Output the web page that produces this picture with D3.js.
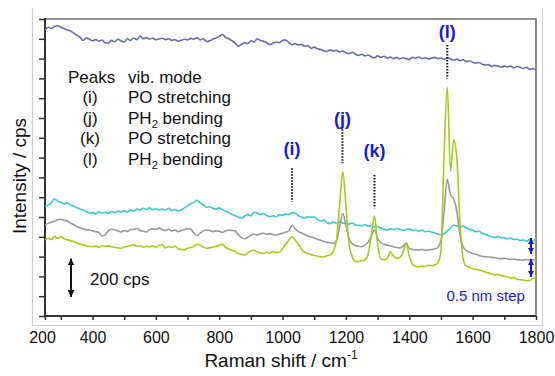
<!DOCTYPE html>
<html><head><meta charset="utf-8">
<script src="https://cdn.jsdelivr.net/npm/d3@7"></script>
<style>body{margin:0;background:#fff}svg{display:block}text{font-family:"Liberation Sans",Arial,sans-serif}</style>
</head><body><svg id="c" width="555" height="376"></svg>
<script>
// Raman shift grid: starts at 250 cm-1, one value every 10 cm-1
const shiftStart = 250, shiftStep = 10;
const purpleCps = [1444,1458,1452,1462,1466,1458,1452,1445,1440,1430,1418,1410,1392,1404,1398,1390,1396,1388,1394,1380,1378,1392,1385,1398,1390,1384,1400,1392,1404,1396,1414,1400,1406,1398,1404,1395,1400,1403,1396,1400,1392,1396,1388,1392,1398,1394,1402,1398,1406,1394,1400,1386,1390,1398,1404,1412,1422,1408,1400,1390,1378,1362,1372,1380,1376,1390,1384,1400,1392,1388,1380,1370,1378,1384,1380,1392,1394,1380,1370,1376,1368,1372,1362,1366,1352,1358,1350,1346,1340,1336,1344,1338,1342,1334,1338,1330,1326,1332,1322,1316,1322,1314,1318,1309,1304,1314,1306,1312,1302,1308,1300,1306,1298,1304,1300,1296,1306,1302,1308,1300,1304,1298,1302,1306,1300,1303,1296,1304,1298,1292,1298,1290,1294,1286,1288,1282,1278,1280,1272,1268,1270,1260,1266,1262,1256,1262,1258,1262,1254,1260,1256,1250,1256,1246,1250,1242];
const cyanCps = [552,560,572,592,580,576,566,572,560,556,548,540,536,528,520,522,516,526,520,524,518,528,522,530,526,532,524,536,530,540,534,544,538,546,536,542,534,540,536,544,532,538,530,536,546,556,566,574,584,570,562,548,552,544,540,546,536,530,522,514,506,500,494,504,512,506,524,520,512,518,508,502,506,500,512,508,516,512,522,520,506,500,494,502,498,500,488,480,484,472,466,474,470,476,470,468,464,470,460,458,456,462,454,458,450,452,444,438,432,440,436,442,438,432,436,440,432,434,428,434,426,428,424,420,414,410,416,430,444,458,456,450,454,444,438,434,426,428,418,412,406,400,396,402,394,396,390,394,386,388,382,384,378,386,380,388];
const grayCps = [460,468,474,480,486,488,484,480,470,462,452,446,440,436,434,430,426,422,404,410,430,438,436,430,424,432,426,436,438,442,432,428,424,436,440,438,444,436,432,438,430,434,426,432,436,440,438,420,406,418,430,434,432,426,430,428,422,430,434,432,430,412,396,390,398,408,414,408,416,418,412,416,410,408,414,418,424,430,458,440,426,420,412,404,400,394,388,382,376,372,370,366,380,450,518,458,392,364,356,352,350,358,372,402,434,392,370,362,358,354,350,346,344,352,368,342,336,334,333,336,332,334,336,338,346,380,530,690,612,592,530,410,350,330,322,316,312,306,302,300,298,296,294,292,290,292,288,286,288,284,284,282,286,282,284,282];
const greenCps = [384,392,386,402,392,400,390,386,380,376,370,364,360,354,352,350,354,348,356,352,354,350,346,344,342,348,352,356,360,352,356,348,352,350,354,348,356,360,344,350,346,352,340,336,334,342,346,352,362,358,348,342,344,348,352,358,362,346,338,332,326,316,312,308,318,328,332,324,318,316,322,318,326,320,322,340,362,384,400,382,364,336,322,316,310,306,302,300,298,304,308,328,380,560,728,560,360,300,276,274,280,284,312,410,505,360,290,284,290,324,304,292,296,320,366,300,262,250,248,252,250,256,254,258,268,330,830,1156,730,890,800,470,290,252,246,240,236,232,228,222,218,212,208,210,204,200,198,192,194,186,184,182,178,180,190,196];

const seriesColors = ["#6a69ad","#3cc8cc","#9a9a9a","#a4cc1c"];
const xTickValues = [250,300,400,500,600,700,800,900,1000,1100,1200,1300,1400,1500,1600,1700,1800];
const xTickLabels = {250:"200",400:"400",600:"600",800:"800",1000:"1000",1200:"1200",1400:"1400",1600:"1600",1800:"1800"};
const yTickValues = [0,100,200,300,400,500,600,700,800,900,1000,1100,1200,1300,1400,1500];

const peakNames = ["(i)","(j)","(k)","(l)"];
const peakShift = [1030,1189,1290,1520];
const peakLabelCps = [813,967,803,1404];
const peakLeaderTop = [746,943,712,1369];
const peakLeaderBottom = [577,771,544,1200];
const legendLabels = ["(i)","(j)","(k)","(l)"];
const legendModes = ["PO stretching","PH2 bending","PO stretching","PH2 bending"];

const svg = d3.select("#c");
const x = d3.scaleLinear().domain([250,1800]).range([45,536]);
const y = d3.scaleLinear().domain([0,1500]).range([316,19]);

// outer light frame
svg.append("path").attr("d","M32.5,8 V325.5 H542.5 V8").attr("fill","none").attr("stroke","#cfcfcf").attr("stroke-width",1.2);

// markers
const defs = svg.append("defs");
function mk(id,color,w,l){
  defs.append("marker").attr("id",id).attr("viewBox","0 0 10 10").attr("refX",10).attr("refY",5)
   .attr("markerWidth",l).attr("markerHeight",w).attr("markerUnits","userSpaceOnUse").attr("orient","auto-start-reverse")
   .append("path").attr("d","M0,0 L10,5 L0,10 Z").attr("fill",color);
}
mk("ab","#111",7,7); mk("au","#1a1ad6",7,6);

// top & right frame
svg.append("path").attr("d",`M${x(250)},${y(1500)} H${x(1800)} V${y(0)}`).attr("fill","none").attr("stroke","#6e6e6e").attr("stroke-width",1.6);

// axes
const gx = svg.append("g").attr("transform",`translate(0,${y(0)})`)
  .call(d3.axisBottom(x).tickValues(xTickValues).tickSize(4).tickPadding(12).tickFormat(v=>xTickLabels[v]||""));
gx.select(".domain").remove();
gx.selectAll("line").attr("stroke","#333").attr("stroke-width",1.5);
gx.selectAll("text").attr("font-size",16).attr("fill","#111").attr("font-family","Liberation Sans, Arial, sans-serif");
gx.selectAll("text").filter(v=>v===250).attr("dx",-3);

const gy = svg.append("g").attr("transform",`translate(${x(250)},0)`)
  .call(d3.axisLeft(y).tickValues(yTickValues).tickSize(6).tickFormat(""));
gy.select(".domain").remove();
gy.selectAll("line").attr("stroke","#333").attr("stroke-width",1.5);

svg.append("path").attr("d",`M${x(250)},${y(1500)-1} V${y(0)} H${x(1800)}`).attr("fill","none").attr("stroke","#333").attr("stroke-width",2);

// series
const line = d3.line().x((d,i)=>x(shiftStart+shiftStep*i)).y(d=>y(d)).curve(d3.curveMonotoneX);
[purpleCps,cyanCps,grayCps,greenCps].forEach((s,k)=>{
  svg.append("path").attr("d",line(s)).attr("fill","none").attr("stroke",seriesColors[k]).attr("stroke-width",1.6).attr("stroke-linejoin","round");
});

// peak annotations
peakNames.forEach((n,i)=>{
  svg.append("line").attr("x1",x(peakShift[i])).attr("x2",x(peakShift[i]))
    .attr("y1",y(peakLeaderTop[i])).attr("y2",y(peakLeaderBottom[i]))
    .attr("stroke","#111").attr("stroke-width",2).attr("stroke-dasharray","1.5,1.5");
  svg.append("text").attr("x",x(peakShift[i])).attr("y",y(peakLabelCps[i])).attr("text-anchor","middle")
    .attr("font-size",18).attr("font-weight","bold").attr("fill","#1a1ad6").text(n);
});

// legend
const lg = svg.append("g").attr("font-size",17).attr("fill","#111");
lg.append("text").attr("x",68).attr("y",82.5).text("Peaks");
lg.append("text").attr("x",128).attr("y",82.5).text("vib. mode");
legendLabels.forEach((l,i)=>{
  const by = 103 + i*20.6;
  lg.append("text").attr("x",90).attr("y",by).attr("text-anchor","middle").text(l);
  const t = lg.append("text").attr("x",128).attr("y",by);
  const m = legendModes[i];
  if (m.startsWith("PH2")) {
    t.append("tspan").text("PH");
    t.append("tspan").attr("font-size",11).attr("dy",4).text("2");
    t.append("tspan").attr("dy",-4).text(m.slice(3));
  } else t.text(m);
});

// 200 cps scale bar
const barBottom = 297, barLen = y(0)-y(200);
svg.append("line").attr("x1",71).attr("x2",71).attr("y1",barBottom-barLen+1).attr("y2",barBottom)
  .attr("stroke","#111").attr("stroke-width",2).attr("marker-start","url(#ab)").attr("marker-end","url(#ab)");
svg.append("text").attr("x",90).attr("y",285).attr("font-size",17).attr("fill","#111").text("200 cps");

// step arrows
[[238,254],[259,277]].forEach(([a,b])=>{
  svg.append("line").attr("x1",531).attr("x2",531).attr("y1",a).attr("y2",b)
    .attr("stroke","#1a1ad6").attr("stroke-width",2).attr("marker-start","url(#au)").attr("marker-end","url(#au)");
});
svg.append("text").attr("x",446.5).attr("y",301).attr("font-size",15).attr("fill","#1a1ad6").text("0.5 nm step");

// axis titles
svg.append("text").attr("transform","translate(26,176) rotate(-90)").attr("text-anchor","middle")
  .attr("font-size",19).attr("fill","#111").text("Intensity / cps");
const xt = svg.append("text").attr("x",281).attr("y",367).attr("text-anchor","middle").attr("font-size",19).attr("fill","#111");
xt.append("tspan").text("Raman shift / cm");
xt.append("tspan").attr("font-size",12).attr("dy",-8).text("-1");
</script></body></html>
